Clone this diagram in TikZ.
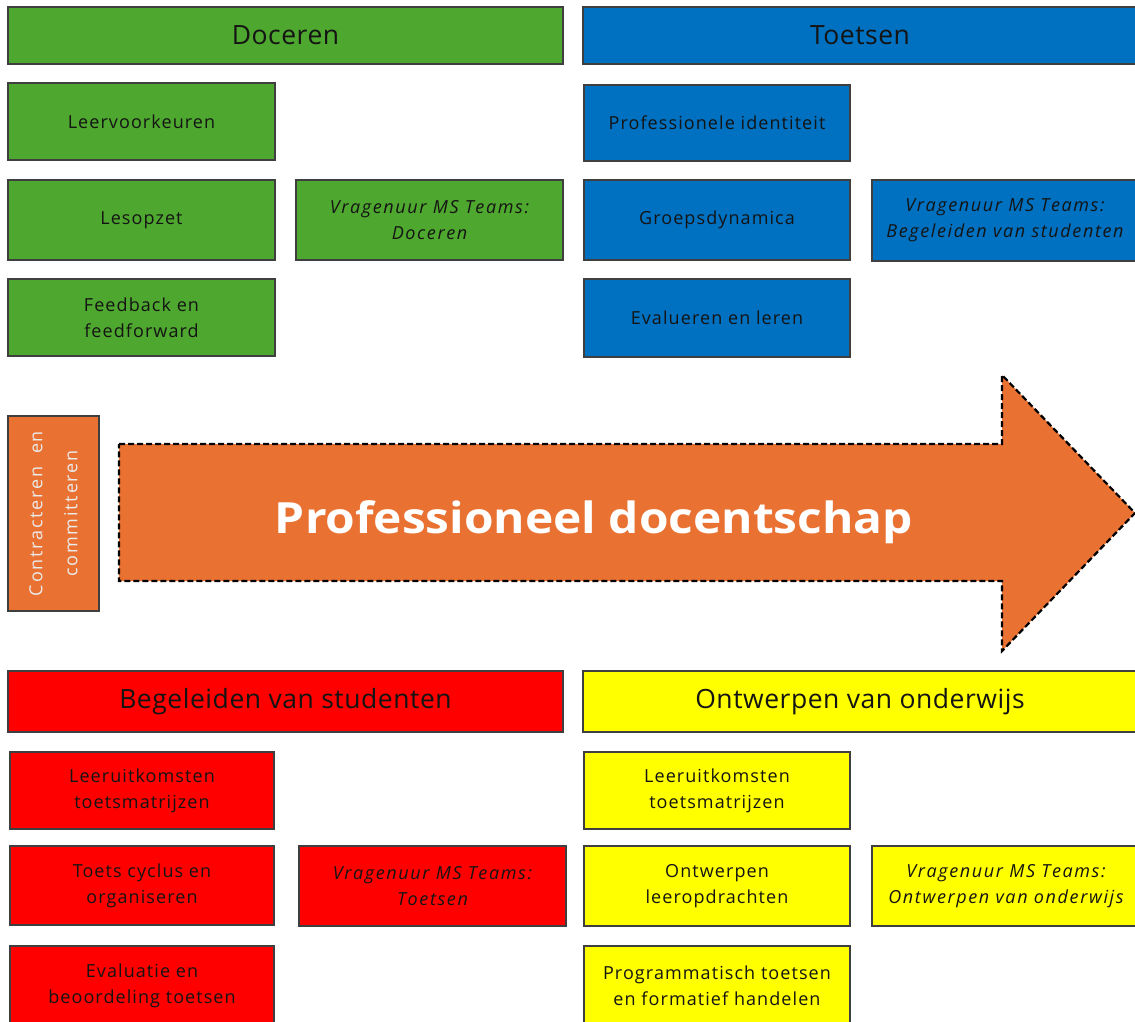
\documentclass[tikz,border=0pt]{standalone}
\usepackage{fontspec}
\setmainfont{Open Sans}
\newfontfamily\spacedfont[LetterSpace=10]{Open Sans}
\newfontfamily\smallfont[LetterSpace=6]{Open Sans}
\newfontfamily\vraagfont[LetterSpace=9]{Open Sans}
\newfontfamily\headfont[LetterSpace=2]{Open Sans}
\usepackage{graphicx}
\definecolor{cgreen}{HTML}{4EA72E}
\definecolor{cblue}{HTML}{0070C0}
\definecolor{corange}{HTML}{E97132}
\definecolor{cred}{HTML}{FF0000}
\definecolor{cyellow}{HTML}{FFFF00}
\definecolor{ctext}{HTML}{141414}
\definecolor{cborder}{HTML}{3F3F3F}
\tikzset{
  box/.style={draw=cborder, line width=1.3pt, inner sep=0pt, align=center,
    text=ctext, font=\smallfont\fontsize{18}{26}\selectfont},
  header/.style={box, font=\headfont\fontsize{26.5}{30}\selectfont},
  vraag/.style={box, font=\vraagfont\fontsize{18}{26}\selectfont\itshape},
  arrowshape/.style={draw=black, fill=corange, line width=2.2pt, dash pattern=on 6pt off 3pt},
}
\newcommand\bx[7]{\node[#2, minimum width=#5pt-#3pt, minimum height=#6pt-#4pt]
  (#1) at ({(#3+#5)/2},{(#4+#6)/2}) {#7};}
\begin{document}
\begin{tikzpicture}[x=1pt,y=-1pt]
\useasboundingbox (0,0) rectangle (1135,1021);
% Doceren
\bx{doc}{header, fill=cgreen}{8}{7}{563}{64}{Doceren}
\bx{leer}{box, fill=cgreen}{8}{83}{275}{160}{Leervoorkeuren}
\bx{les}{box, fill=cgreen}{8}{180}{275}{260}{Lesopzet}
\bx{vdoc}{vraag, fill=cgreen}{296}{180}{563}{260}{Vragenuur MS Teams:\\Doceren}
\bx{feed}{box, fill=cgreen}{8}{279}{275}{356}{Feedback en\\feedforward}
% Toetsen
\bx{toe}{header, fill=cblue}{583}{7}{1137}{64}{Toetsen}
\bx{prof}{box, fill=cblue}{584}{85}{850}{161}{Professionele identiteit}
\bx{groep}{box, fill=cblue}{584}{180}{850}{260}{Groepsdynamica}
\bx{vbeg}{vraag, fill=cblue}{872}{180}{1138}{261}{Vragenuur MS Teams:\\Begeleiden van studenten}
\bx{eval}{box, fill=cblue}{584}{279}{850}{357}{Evalueren en leren}
% middle
\bx{contr}{box, fill=corange}{8}{416}{99}{611}{}
\node[rotate=90, align=center, text=white!92!black, inner sep=0pt,
  font=\spacedfont\fontsize{18}{35}\selectfont] (contrtext) at (contr.center)
  {Contracteren\hspace{0.7em}en\\committeren};
\draw[arrowshape] (119,444) -- (1002,444) -- (1002,375) -- (1135,513)
  -- (1002,651) -- (1002,581) -- (119,581) -- cycle;
\node[text=white, inner sep=0pt, anchor=base, font=\fontsize{43}{43}\selectfont\bfseries]
  (pd) at (594,533) {\resizebox{638pt}{\height}{Professioneel docentschap}};
% Begeleiden
\bx{beg}{header, fill=cred}{8}{671}{563}{732}{Begeleiden van studenten}
\bx{rleer}{box, fill=cred}{10}{752}{274}{829}{Leeruitkomsten\\toetsmatrijzen}
\bx{cycl}{box, fill=cred}{10}{846}{274}{925}{Toets cyclus en\\organiseren}
\bx{vtoe}{vraag, fill=cred}{299}{846}{566}{926}{Vragenuur MS Teams:\\Toetsen}
\bx{beoor}{box, fill=cred}{10}{946}{274}{1026}{Evaluatie en\\beoordeling toetsen}
% Ontwerpen
\bx{ont}{header, fill=cyellow}{583}{671}{1137}{732}{Ontwerpen van onderwijs}
\bx{yleer}{box, fill=cyellow}{584}{752}{850}{829}{Leeruitkomsten\\toetsmatrijzen}
\bx{oleer}{box, fill=cyellow}{584}{846}{850}{926}{Ontwerpen\\leeropdrachten}
\bx{vont}{vraag, fill=cyellow}{872}{846}{1140}{926}{Vragenuur MS Teams:\\Ontwerpen van onderwijs}
\bx{prog}{box, fill=cyellow}{584}{946}{850}{1026}{Programmatisch toetsen\\en formatief handelen}
\end{tikzpicture}
\end{document}
